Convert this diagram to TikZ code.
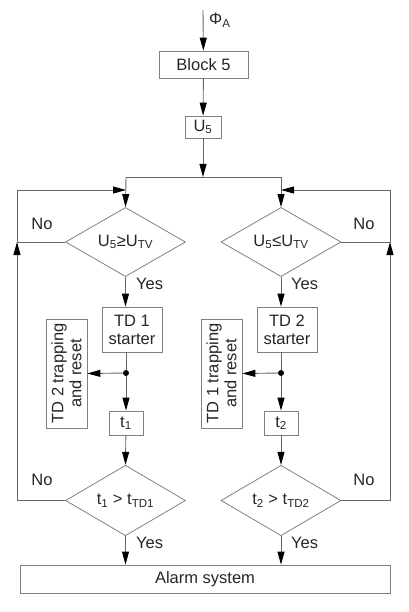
\documentclass[tikz,border=0pt]{standalone}
\usepackage{fontspec}
\setmainfont{Liberation Sans}
\usetikzlibrary{arrows.meta,shapes.geometric}
\begin{document}
\begin{tikzpicture}[x=1pt,y=-1pt,
  font=\fontsize{16.5}{18}\selectfont,
  every node/.style={text=black!85},
  ln/.style={draw=black!60, line width=0.9pt},
  arr/.style={ln, -{Triangle[length=13pt,width=7pt,color=black]}},
  box/.style={draw=black!50, line width=0.8pt, inner sep=0pt, align=center},
  dec/.style={draw=black!50, line width=0.8pt, diamond, inner sep=0pt, minimum width=120pt, minimum height=52pt},
  lbl/.style={inner sep=0pt},
  dot/.style={circle, fill=black, inner sep=0pt, minimum size=6pt}
]
\useasboundingbox (0,0) rectangle (408,612);

% nodes
\coordinate (phi) at (203,10);
\node[box, minimum width=89pt, minimum height=27pt] (block) at (203.5,64.5) {Block 5};
\node[box, minimum width=36pt, minimum height=22pt] (u5) at (203,127) {U\textsubscript{5}};
\coordinate (top) at (203,177);
\coordinate (topL) at (126,177);
\coordinate (topR) at (281,177);

\node[dec] (d1) at (125.5,242) {U\textsubscript{5}≥U\textsubscript{TV}};
\node[dec] (d2) at (281,242) {U\textsubscript{5}≤U\textsubscript{TV}};

\node[box, minimum width=60pt, minimum height=45pt] (td1) at (132,329.5) {TD 1\\starter};
\node[box, minimum width=60pt, minimum height=45pt] (td2) at (287,329.5) {TD 2\\starter};

\node[dot] (j1) at (126,373) {};
\node[dot] (j2) at (281,373) {};

\node[box, minimum width=109pt, minimum height=41pt, rotate=90] (tr2) at (66.5,373.5) {TD 2 trapping\\and reset};
\node[box, minimum width=109pt, minimum height=41pt, rotate=90] (tr1) at (221.5,373.5) {TD 1 trapping\\and reset};

\node[box, minimum width=34pt, minimum height=24pt] (t1) at (126,423) {t\textsubscript{1}};
\node[box, minimum width=34pt, minimum height=24pt] (t2) at (281,423) {t\textsubscript{2}};

\node[dec, minimum height=53pt] (d3) at (125.5,500.5) {t\textsubscript{1} > t\textsubscript{TD1}};
\node[dec, minimum height=53pt] (d4) at (281,500.5) {t\textsubscript{2} > t\textsubscript{TD2}};

\node[box, minimum width=370pt, minimum height=28pt] (alarm) at (205,579) {Alarm system};

\coordinate (lc) at (17,242);
\coordinate (lt) at (17,190);
\coordinate (lb) at (17,500.5);
\coordinate (rc) at (390,242);
\coordinate (rt) at (390,190);
\coordinate (rb) at (390,500.5);
\coordinate (inL) at (126,190);
\coordinate (inR) at (281,190);

% labels
\node[lbl, anchor=west] (phil) at (209,20) {Φ\textsubscript{A}};
\node[lbl] (no1) at (42,224) {No};
\node[lbl] (no2) at (42,480) {No};
\node[lbl] (no3) at (364,224) {No};
\node[lbl] (no4) at (364,480) {No};
\node[lbl, anchor=west] (y1) at (136,284) {Yes};
\node[lbl, anchor=west] (y2) at (291,284) {Yes};
\node[lbl, anchor=west] (y3) at (136,543) {Yes};
\node[lbl, anchor=west] (y4) at (291,543) {Yes};

% connectors
\draw[arr] (phi) -- (block);
\draw[arr] (block) -- (u5);
\draw[arr] (u5) -- (top);
\draw[ln] (topL) -- (topR);
\draw[arr] (topL) -- (d1.north);
\draw[arr] (topR) -- (d2.north);

\draw[arr] (d1.south) -- (d1.south |- td1.north);
\draw[arr] (d2.south) -- (d2.south |- td2.north);

\draw[ln] (td1.south -| j1) -- (j1);
\draw[ln] (td2.south -| j2) -- (j2);
\draw[arr] (j1) -- (tr2.south);
\draw[arr] (j2) -- (tr1.south);
\draw[arr] (j1) -- (t1);
\draw[arr] (j2) -- (t2);

\draw[arr] (t1) -- (d3.north);
\draw[arr] (t2) -- (d4.north);
\draw[arr] (d3.south) -- (d3.south |- alarm.north);
\draw[arr] (d4.south) -- (d4.south |- alarm.north);

% feedback loops
\draw[arr] (d3.west) -- (lb) -- (lc);
\draw[ln] (d1.west) -- (lc) -- (lt);
\draw[arr] (lt) -- (inL);
\draw[arr] (d4.east) -- (rb) -- (rc);
\draw[ln] (d2.east) -- (rc) -- (rt);
\draw[arr] (rt) -- (inR);
\end{tikzpicture}
\end{document}
